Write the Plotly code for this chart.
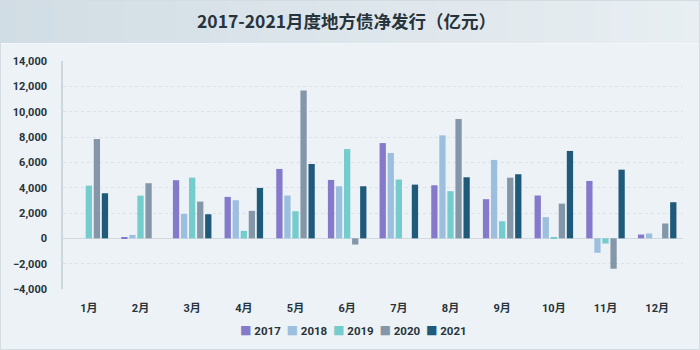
import plotly.graph_objects as go

# Monthly net issuance of local government bonds (100 million yuan)
months = ["1月", "2月", "3月", "4月", "5月", "6月", "7月", "8月", "9月", "10月", "11月", "12月"]
years = ["2017", "2018", "2019", "2020", "2021"]

v2017 = [0, 100, 4590, 3270, 5480, 4610, 7520, 4190, 3090, 3380, 4530, 300]
v2018 = [0, 270, 1930, 3010, 3380, 4110, 6740, 8130, 6190, 1670, -1140, 380]
v2019 = [4160, 3370, 4790, 590, 2140, 7050, 4640, 3720, 1350, 100, -410, 0]
v2020 = [7840, 4350, 2900, 2170, 11680, -490, 0, 9420, 4790, 2740, -2400, 1170]
v2021 = [3560, 0, 1900, 3980, 5870, 4110, 4240, 4820, 5060, 6900, 5420, 2850]

series = [v2017, v2018, v2019, v2020, v2021]
colors = ["#8479cb", "#9dbfdf", "#74cccd", "#8397a9", "#1f5a7b"]

y_ticks = list(range(-4000, 14001, 2000))

fig = go.Figure()
for name, vals, col in zip(years, series, colors):
    fig.add_trace(go.Bar(
        x=months, y=vals, name=name, marker_color=col,
        marker_line_width=0, showlegend=False,
    ))

# page geometry (px) used to place decorations around the plot area
W, H = 700, 350
ML, MR, MT, MB = 63, 17, 61, 61
PW, PH = W - ML - MR, H - MT - MB


def px_x(px):
    return (px - ML) / PW


def px_y(py):
    return (H - MB - py) / PH


shapes = []
# header band with a soft horizontal gradient
n_strips = 40
c0 = (0xd1, 0xdd, 0xe4)
c1 = (0xe8, 0xee, 0xf2)
for i in range(n_strips):
    t = i / (n_strips - 1)
    c = tuple(round(a + (b - a) * t) for a, b in zip(c0, c1))
    shapes.append(dict(
        type="rect", xref="paper", yref="paper", layer="below",
        x0=px_x(W * i / n_strips), x1=px_x(W * (i + 1) / n_strips + 1),
        y0=px_y(43), y1=px_y(0),
        fillcolor="rgb(%d,%d,%d)" % c, line_width=0,
    ))
# thin light line under the header
shapes.append(dict(
    type="line", xref="paper", yref="paper", layer="below",
    x0=px_x(0), x1=px_x(W), y0=px_y(43.5), y1=px_y(43.5),
    line=dict(color="#f4f7f9", width=1),
))
# outer frame
shapes.append(dict(
    type="rect", xref="paper", yref="paper", layer="below",
    x0=px_x(0.5), x1=px_x(W - 0.5), y0=px_y(H - 0.5), y1=px_y(0.5),
    line=dict(color="#d3dce2", width=1),
))

# legend drawn as a single centred line of coloured squares and labels
legend_text = "&nbsp;&nbsp;".join(
    "<span style='color:%s'>■</span> %s" % (c, y) for c, y in zip(colors, years)
)

annotations = [
    dict(
        text="2017-2021月度地方债净发行（亿元）",
        xref="paper", yref="paper", x=px_x(W / 2 - 4), y=px_y(21),
        xanchor="center", yanchor="middle", showarrow=False,
        font=dict(family="Noto Sans CJK SC", size=17.5, color="#27343b", weight=700),
    ),
    dict(
        text=legend_text,
        xref="paper", yref="paper", x=px_x(353), y=px_y(331),
        xanchor="center", yanchor="middle", showarrow=False,
        font=dict(family="Roboto, Noto Sans CJK SC", size=11.5, color="#27343b", weight=700),
    ),
]

fig.update_layout(
    width=W, height=H,
    margin=dict(l=ML, r=MR, t=MT, b=MB, pad=0),
    paper_bgcolor="#edf2f6",
    plot_bgcolor="#edf2f6",
    barmode="group",
    bargap=0.22,
    bargroupgap=0.22,
    shapes=shapes,
    annotations=annotations,
    showlegend=False,
)

fig.update_xaxes(
    type="category",
    showgrid=False,
    showline=False,
    ticks="outside", ticklen=9, tickcolor="rgba(0,0,0,0)",
    tickfont=dict(family="Roboto, Noto Sans CJK SC", size=11, color="#27343b", weight=700),
)

fig.update_yaxes(
    range=[-4000, 14000],
    tickvals=y_ticks,
    tickformat=",d",
    showgrid=True, gridcolor="#d9e2e8", griddash="dot", gridwidth=1,
    zeroline=True, zerolinecolor="#cfd9df", zerolinewidth=1,
    showline=True, linecolor="#cdd8de", linewidth=1.5,
    ticks="outside", ticklen=12, tickcolor="rgba(0,0,0,0)",
    tickfont=dict(family="Roboto", size=11, color="#27343b", weight=700),
)

fig.write_html("out.html")
